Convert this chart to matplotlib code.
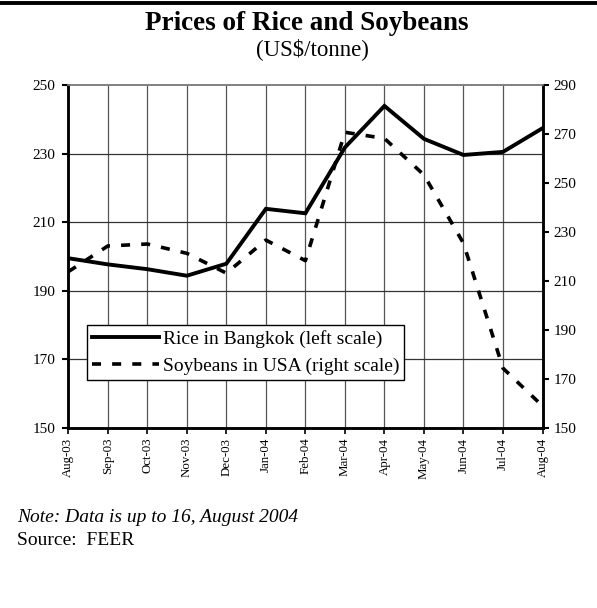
import matplotlib
matplotlib.use("Agg")
import matplotlib.pyplot as plt
from matplotlib.lines import Line2D

# data
months = ['Aug-03', 'Sep-03', 'Oct-03', 'Nov-03', 'Dec-03', 'Jan-04', 'Feb-04',
          'Mar-04', 'Apr-04', 'May-04', 'Jun-04', 'Jul-04', 'Aug-04']
rice = [199.5, 197.7, 196.3, 194.4, 197.9, 213.9, 212.6,
        231.8, 243.9, 234.3, 229.6, 230.5, 237.4]
soy = [213.8, 224.3, 225.1, 221.3, 213.2, 226.7, 218.3,
       270.7, 268.2, 253.3, 225.4, 174.4, 159.0]
left_ticks = [150, 170, 190, 210, 230, 250]
right_ticks = [150, 170, 190, 210, 230, 250, 270, 290]

plt.rcParams['font.family'] = ['Liberation Serif', 'DejaVu Serif']
plt.rcParams['lines.scale_dashes'] = False

W, H = 597, 608
fig = plt.figure(figsize=(W / 100, H / 100), dpi=100)
ax = fig.add_axes([68.3 / W, 1 - 428 / H, 474.2 / W, 343 / H])
ax2 = ax.twinx()

x = list(range(len(months)))

# grid
for xi in x[1:-1]:
    ax.axvline(xi, color='#555555', lw=0.9, zorder=0)
for yi in left_ticks[1:-1]:
    ax.axhline(yi, color='#333333', lw=0.9, zorder=0)

l1, = ax.plot(x, rice, color='black', lw=2.8, solid_joinstyle='miter', zorder=3)
l2, = ax2.plot(x, soy, color='black', lw=2.6, dashes=(6.5, 8.0), zorder=3)

ax.set_xlim(0, 12)
ax.set_ylim(150, 250)
ax2.set_ylim(150, 290)
ax.set_yticks(left_ticks)
ax2.set_yticks(right_ticks)
ax.set_xticks(x)
ax.set_xticklabels(months, rotation=90, fontsize=9.3)
ax.tick_params(axis='y', direction='out', length=4, width=1.5, labelsize=11, pad=5.5)
ax2.tick_params(axis='y', direction='out', length=4, width=1.5, labelsize=11, pad=4)
ax.tick_params(axis='x', direction='out', length=4, width=1.2, pad=3)

for a in (ax, ax2):
    a.spines['top'].set_color('#808080')
    a.spines['top'].set_linewidth(1.2)
    for s in ('left', 'right', 'bottom'):
        a.spines[s].set_color('black')
        a.spines[s].set_linewidth(1.8)

leg = ax.legend([l1, l2], ['Rice in Bangkok (left scale)', 'Soybeans in USA (right scale)'],
                loc='lower left', bbox_to_anchor=(0.04, 0.14), borderaxespad=0,
                fontsize=14, fancybox=False, framealpha=1, edgecolor='black',
                handlelength=3.45, handletextpad=0.2, borderpad=0.25, labelspacing=0.5)
leg.get_frame().set_linewidth(1.0)
leg.set_zorder(5)

# titles
fig.text(307 / W, 1 - 30 / H, 'Prices of Rice and Soybeans', ha='center', va='baseline',
         fontsize=19.5, fontweight='bold')
fig.text(312 / W, 1 - 55 / H, '(US$/tonne)', ha='center', va='baseline', fontsize=16.5)

# heavy rule across the top
fig.add_artist(Line2D([0, 1], [1 - 3 / H, 1 - 3 / H], color='black', lw=2.8))

fig.text(17 / W, 1 - 522 / H, 'Note: Data is up to 16, August 2004', ha='left',
         va='baseline', fontsize=14, style='italic')
fig.text(17 / W, 1 - 545 / H, 'Source:  FEER', ha='left', va='baseline', fontsize=14)

fig.savefig('out.png', dpi=100)
